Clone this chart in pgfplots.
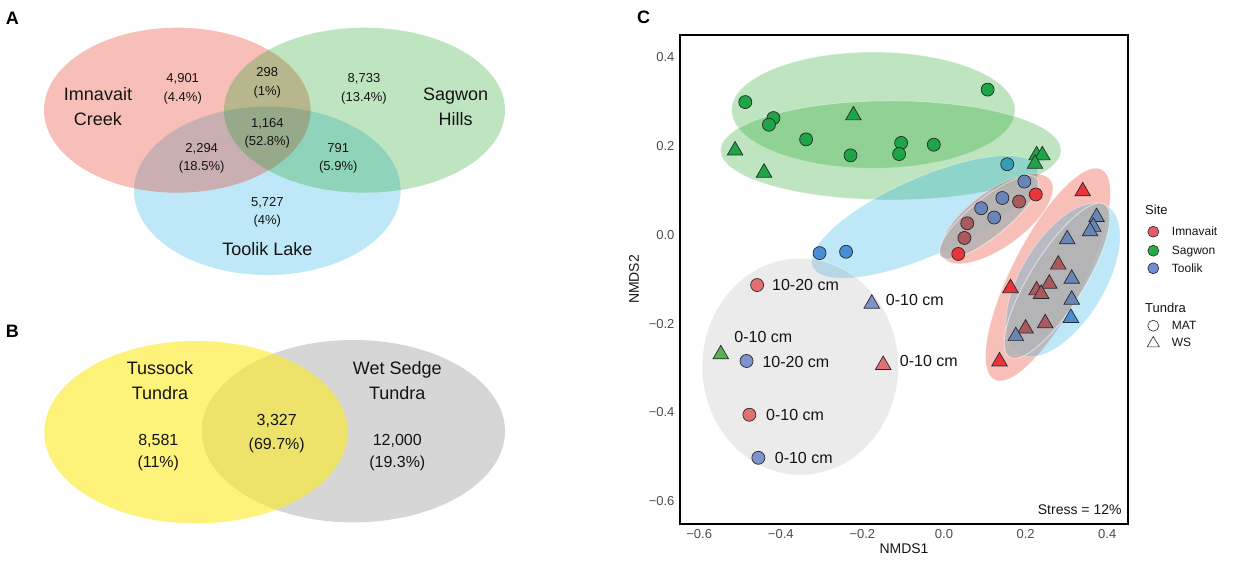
\documentclass[border=0pt]{standalone}
\usepackage{pgfplots}
\pgfplotsset{compat=1.18}
\usepackage{fontspec}
\setmainfont{Liberation Sans}
\definecolor{cR}{RGB}{232,52,58}
\definecolor{cRd}{RGB}{168,90,94}
\definecolor{cRl}{RGB}{226,112,114}
\definecolor{cG}{RGB}{30,165,70}
\definecolor{cGl}{RGB}{85,178,78}
\definecolor{cB}{RGB}{72,142,215}
\definecolor{cBt}{RGB}{52,155,185}
\definecolor{cBd}{RGB}{105,132,182}
\definecolor{cBl}{RGB}{126,146,205}
\definecolor{eG}{RGB}{20,160,30}
\definecolor{eB}{RGB}{20,170,225}
\definecolor{eR}{RGB}{230,25,0}
\definecolor{eGray}{RGB}{180,180,180}
\definecolor{legR}{RGB}{235,90,100}
\definecolor{legG}{RGB}{40,170,70}
\definecolor{legB}{RGB}{110,140,210}
\definecolor{vY}{RGB}{252,236,44}
\definecolor{vGr}{RGB}{214,214,214}
\definecolor{tickgray}{RGB}{77,77,77}
\definecolor{edge}{RGB}{40,40,40}
\definecolor{txt}{RGB}{20,20,20}
\begin{document}
\begin{tikzpicture}[x=1pt,y=1pt]
\useasboundingbox (0,0) rectangle (1234,561);
% ---------------- overlay axis in pixel units (Venn diagrams, legend, panel letters)
\begin{axis}[at={(0pt,0pt)}, anchor=south west, scale only axis,
  width=1234pt, height=561pt, xmin=0, xmax=1234, ymin=0, ymax=561,
  y dir=reverse, hide axis, clip=false]
 % Venn A
 \path[fill=eB, fill opacity=0.28] (axis cs:267.3,190.8) ellipse [x radius=133.3, y radius=84.2];
 \path[fill=eR, fill opacity=0.28] (axis cs:177.3,110.2) ellipse [x radius=133.3, y radius=82.5];
 \path[fill=eG, fill opacity=0.28] (axis cs:364.5,110.2) ellipse [x radius=140.5, y radius=82.5];
 \begin{scope}[every node/.style={anchor=base, inner sep=0pt, text=txt, font=\fontsize{13}{15}\selectfont}]
 \node at (axis cs:182.7,83.0) {4,901};   \node at (axis cs:182.7,102.0) {(4.4\%)};
 \node at (axis cs:267.3,77.0) {298};     \node at (axis cs:267.3,95.4) {(1\%)};
 \node at (axis cs:364,83.0) {8,733};     \node at (axis cs:364,102.0) {(13.4\%)};
 \node at (axis cs:267.3,127.4) {1,164};  \node at (axis cs:267.3,146.0) {(52.8\%)};
 \node at (axis cs:201.7,152.4) {2,294};  \node at (axis cs:201.7,170.4) {(18.5\%)};
 \node at (axis cs:338.3,152.4) {791};    \node at (axis cs:338.3,170.4) {(5.9\%)};
 \node at (axis cs:267.3,206.4) {5,727};  \node at (axis cs:267.3,224.7) {(4\%)};
 \end{scope}
 \begin{scope}[every node/.style={anchor=base, inner sep=0pt, text=txt, font=\fontsize{18}{20}\selectfont}]
 \node at (axis cs:98,100.8) {Imnavait};  \node at (axis cs:98,125.5) {Creek};
 \node at (axis cs:455.7,100.8) {Sagwon}; \node at (axis cs:455.7,125.5) {Hills};
 \node at (axis cs:267.3,255.2) {Toolik Lake};
 \end{scope}
 % Venn B
 \path[fill=vGr] (axis cs:353.3,431.2) ellipse [x radius=151.7, y radius=91.2];
 \path[fill=vY, fill opacity=0.63] (axis cs:196,432.2) ellipse [x radius=151.7, y radius=91.2];
 \begin{scope}[every node/.style={anchor=base, inner sep=0pt, text=txt, font=\fontsize{18}{20}\selectfont}]
 \node at (axis cs:160,374.8) {Tussock};    \node at (axis cs:160,399.8) {Tundra};
 \node at (axis cs:397.3,374.8) {Wet Sedge}; \node at (axis cs:397.3,399.8) {Tundra};
 \end{scope}
 \begin{scope}[every node/.style={anchor=base, inner sep=0pt, text=txt, font=\fontsize{16}{18}\selectfont}]
 \node at (axis cs:158.3,445.1) {8,581};  \node at (axis cs:158.3,467.5) {(11\%)};
 \node at (axis cs:276.7,425.8) {3,327};  \node at (axis cs:276.7,449.1) {(69.7\%)};
 \node at (axis cs:397.3,445.1) {12,000}; \node at (axis cs:397.3,467.5) {(19.3\%)};
 \end{scope}
 % panel letters
 \begin{scope}[every node/.style={anchor=base west, inner sep=0pt, text=black, font=\fontsize{18}{20}\selectfont\bfseries}]
 \node at (axis cs:5.7,25) {A};
 \node at (axis cs:5.7,337.3) {B};
 \node at (axis cs:637,24) {C};
 \end{scope}
 % legend of panel C
 \addplot[only marks, mark=*, mark size=5.5pt, mark options={fill=legR, draw=edge, line width=0.6pt}] coordinates {(1153.3,231.7)};
 \addplot[only marks, mark=*, mark size=5.5pt, mark options={fill=legG, draw=edge, line width=0.6pt}] coordinates {(1153.3,250.7)};
 \addplot[only marks, mark=*, mark size=5.5pt, mark options={fill=legB, draw=edge, line width=0.6pt}] coordinates {(1153.3,268.3)};
 \addplot[only marks, mark=*, mark size=5.5pt, mark options={fill=white, draw=edge, line width=0.6pt}] coordinates {(1153.3,325.7)};
 \addplot[only marks, mark=triangle*, mark size=7pt, mark options={fill=white, draw=edge, line width=0.6pt}] coordinates {(1153.3,343.4)};
 \begin{scope}[every node/.style={anchor=base west, inner sep=0pt, text=txt, font=\fontsize{13}{15}\selectfont}]
 \node at (axis cs:1145,214.5) {Site};
 \node at (axis cs:1145,312.8) {Tundra};
 \end{scope}
 \begin{scope}[every node/.style={anchor=base west, inner sep=0pt, text=txt, font=\fontsize{12}{14}\selectfont}]
 \node at (axis cs:1171.7,236) {Imnavait};
 \node at (axis cs:1171.7,255) {Sagwon};
 \node at (axis cs:1171.7,272.6) {Toolik};
 \node at (axis cs:1171.7,330) {MAT};
 \node at (axis cs:1171.7,346) {WS};
 \end{scope}
\end{axis}
% ---------------- panel C: NMDS
\begin{axis}[at={(680pt,37pt)}, anchor=south west, scale only axis,
  width=448pt, height=489pt,
  xmin=-0.647, xmax=0.451, ymin=-0.651, ymax=0.450,
  axis line style={line width=2.7pt, black},
  xtick={-0.6,-0.4,-0.2,0,0.2,0.4},
  xticklabels={−0.6,−0.4,−0.2,0.0,0.2,0.4},
  ytick={-0.6,-0.4,-0.2,0,0.2,0.4},
  yticklabels={−0.6,−0.4,−0.2,0.0,0.2,0.4},
  major tick length=0pt,
  tick label style={font=\fontsize{13}{15}\selectfont, text=tickgray},
  xticklabel style={yshift=-2pt},
  yticklabel style={xshift=-2pt},
  xlabel={NMDS1}, ylabel={NMDS2},
  label style={font=\fontsize{14}{16}\selectfont, text=txt},
  xlabel style={at={(axis description cs:0.5,-0.0511)}, anchor=center},
  ylabel style={at={(axis description cs:-0.1027,0.5)}, anchor=center},
  clip=true]
 % ellipses
 \path[fill=eG, fill opacity=0.28, draw=white, draw opacity=0.35, line width=0.8pt] (axis cs:-0.1733,0.2809) ellipse [x radius=0.3473, y radius=0.1306];
 \path[fill=eG, fill opacity=0.28, draw=white, draw opacity=0.35, line width=0.8pt] (axis cs:-0.1304,0.1903) ellipse [x radius=0.4172, y radius=0.1115];
 \path[fill=eB, fill opacity=0.28, draw=white, draw opacity=0.35, line width=0.8pt, rotate around={24:(axis cs:-0.0471,0.0405)}] (axis cs:-0.0471,0.0405) ellipse [x radius=0.3007, y radius=0.0878];
 \path[fill=black!40, fill opacity=0.2, draw=white, draw opacity=0.35, line width=0.8pt] (axis cs:-0.3522,-0.2966) ellipse [x radius=0.2402, y radius=0.2439];
 \path[fill=eR, fill opacity=0.28, draw=white, draw opacity=0.35, line width=0.8pt, rotate around={36:(axis cs:0.1299,0.0360)}] (axis cs:0.1299,0.0360) ellipse [x radius=0.1618, y radius=0.0631];
 \path[fill=eR, fill opacity=0.28, draw=white, draw opacity=0.35, line width=0.8pt, rotate around={63:(axis cs:0.2549,-0.0894)}] (axis cs:0.2549,-0.0894) ellipse [x radius=0.2892, y radius=0.0811];
 \path[fill=eB, fill opacity=0.28, draw=white, draw opacity=0.35, line width=0.8pt, rotate around={59:(axis cs:0.2917,-0.1014)}] (axis cs:0.2917,-0.1014) ellipse [x radius=0.2108, y radius=0.0946];
 \path[fill=eGray, fill opacity=0.85, draw=white, draw opacity=0.6, line width=0.8pt, rotate around={39:(axis cs:0.1103,0.0394)}] (axis cs:0.1103,0.0394) ellipse [x radius=0.1520, y radius=0.0428];
 \path[fill=eGray, fill opacity=0.85, draw=white, draw opacity=0.6, line width=0.8pt, rotate around={58:(axis cs:0.2770,-0.1032)}] (axis cs:0.2770,-0.1032) ellipse [x radius=0.2206, y radius=0.0608];
 % points: circles (MAT)
 \pgfplotsset{mk/.style={only marks, mark=*, mark size=6.5pt, mark options={fill=#1, draw=edge, line width=0.7pt}},
              mt/.style={only marks, mark=triangle*, mark size=9pt, mark options={fill=#1, draw=edge, line width=0.7pt}}}
 \addplot[mk=cR]  coordinates {(0.225,0.091) (0.035,-0.043)};
 \addplot[mk=cRd] coordinates {(0.184,0.075) (0.057,0.026) (0.050,-0.007)};
 \addplot[mk=cRl] coordinates {(-0.458,-0.113) (-0.477,-0.405)};
 \addplot[mk=cG]  coordinates {(-0.487,0.299) (-0.418,0.263) (-0.429,0.248) (-0.338,0.215) (-0.229,0.179) (-0.105,0.207) (-0.110,0.182) (-0.025,0.203) (0.107,0.327)};
 \addplot[mk=cBt] coordinates {(0.155,0.159)};
 \addplot[mk=cBd] coordinates {(0.197,0.120) (0.143,0.083) (0.091,0.060) (0.123,0.039)};
 \addplot[mk=cB]  coordinates {(-0.305,-0.041) (-0.240,-0.038)};
 \addplot[mk=cBl] coordinates {(-0.484,-0.284) (-0.455,-0.502)};
 % triangles (WS)
 \addplot[mt=cR]  coordinates {(0.340,0.098) (0.163,-0.120) (0.136,-0.285)};
 \addplot[mt=cRd] coordinates {(0.280,-0.067) (0.258,-0.110) (0.227,-0.125) (0.238,-0.133) (0.248,-0.199) (0.200,-0.211)};
 \addplot[mt=cRl] coordinates {(-0.149,-0.293)};
 \addplot[mt=cG]  coordinates {(-0.222,0.269) (-0.512,0.190) (-0.441,0.140) (0.227,0.179) (0.241,0.179) (0.223,0.160)};
 \addplot[mt=cGl] coordinates {(-0.547,-0.269)};
 \addplot[mt=cBd] coordinates {(0.374,0.040) (0.366,0.018) (0.358,0.008) (0.302,-0.010) (0.313,-0.099) (0.313,-0.146) (0.176,-0.228)};
 \addplot[mt=cB]  coordinates {(0.311,-0.187)};
 \addplot[mt=cBl] coordinates {(-0.177,-0.155)};
 % annotations
 \begin{scope}[every node/.style={anchor=west, inner sep=0pt, text=txt, font=\fontsize{16}{18}\selectfont}]
 \node at (axis cs:-0.4216,-0.1126) {10-20 cm};
 \node at (axis cs:-0.1429,-0.1464) {0-10 cm};
 \node at (axis cs:-0.514,-0.229) {0-10 cm};
 \node at (axis cs:-0.4453,-0.2854) {10-20 cm};
 \node at (axis cs:-0.1086,-0.2831) {0-10 cm};
 \node at (axis cs:-0.4363,-0.4054) {0-10 cm};
 \node at (axis cs:-0.415,-0.503) {0-10 cm};
 \end{scope}
 \node[anchor=east, inner sep=0pt, text=txt, font=\fontsize{14}{16}\selectfont] at (rel axis cs:0.986,0.030) {Stress = 12\%};
\end{axis}
\end{tikzpicture}
\end{document}
